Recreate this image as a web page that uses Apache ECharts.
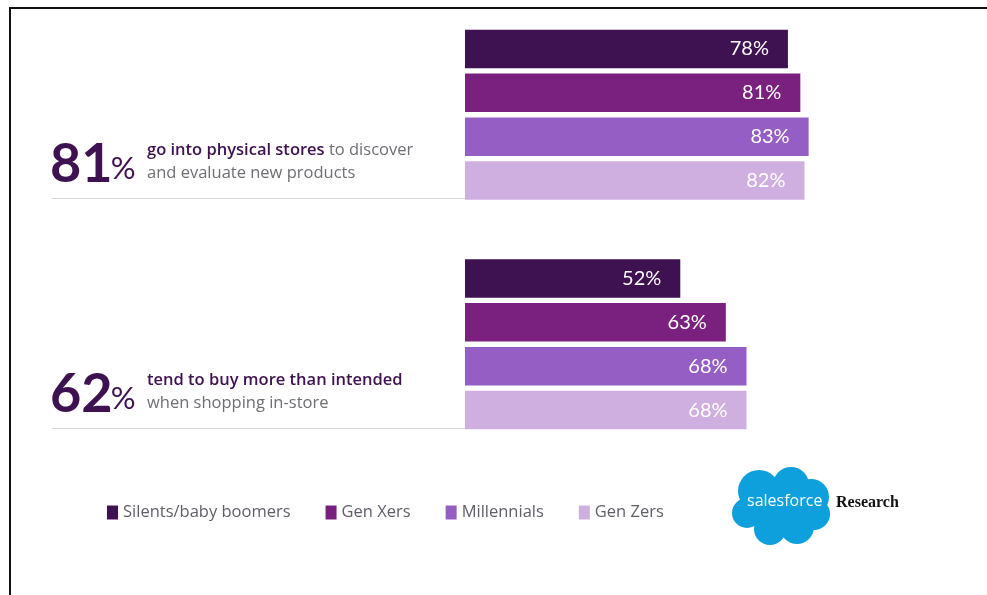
<!DOCTYPE html>
<html>
<head>
<meta charset="utf-8">
<script src="https://cdn.jsdelivr.net/npm/echarts@6/dist/echarts.min.js"></script>
<style>
  html, body { margin: 0; padding: 0; background: #fff; }
  #chart { width: 987px; height: 595px; }
</style>
</head>
<body>
<div id="chart"></div>
<script>
// Survey questions (one bar group each)
const questions = ['Discover in physical stores', 'Buy more than intended'];
// Share of respondents per generation, in percent
const generations = ['Silents/baby boomers', 'Gen Xers', 'Millennials', 'Gen Zers'];
const silents = [78, 52];
const genXers = [81, 63];
const millennials = [83, 68];
const genZers = [82, 68];
// Headline figures shown beside each group
const headline = [81, 62];
const headlineBold = ['go into physical stores', 'tend to buy more than intended'];
const headlineRest = [' to discover', ''];
const headlineLine2 = ['and evaluate new products', 'when shopping in-store'];

const colors = ['#3e1150', '#7a207e', '#955ec4', '#cfaee0'];
const dark = '#3e1150';
const grey = '#6e6e74';
const seriesValues = [silents, genXers, millennials, genZers];

// Measure text so the small percent sign sits right after the big number
const measureCtx = document.createElement('canvas').getContext('2d');
function textWidth(str, font) {
  measureCtx.font = font;
  return measureCtx.measureText(str).width;
}

const chart = echarts.init(document.getElementById('chart'));

const series = generations.map((name, i) => ({
  name: name,
  type: 'bar',
  data: seriesValues[i],
  barWidth: 38.5,
  barGap: '14%',
  itemStyle: { color: colors[i] },
  label: {
    show: true,
    position: 'insideRight',
    distance: 19,
    formatter: '{c}%',
    color: '#ffffff',
    fontSize: 20,
    fontFamily: 'Lato'
  },
  silent: true
}));

// Left-side annotation for each question
const groupTop = [0, 230];
const numFont = 'bold 54px Lato';
const textFont = '16.5px "Open Sans"';
const graphics = [];
headline.forEach((v, k) => {
  const dy = groupTop[k];
  const numW = textWidth(String(v), numFont);
  graphics.push({
    type: 'text', left: 50, top: 138 + dy,
    style: { text: String(v), font: numFont, fill: dark }
  });
  graphics.push({
    type: 'text', left: 50 + numW - 2, top: 153 + dy,
    style: { text: '%', font: '31px Lato', fill: dark }
  });
  graphics.push({
    type: 'text', left: 147, top: 142 + dy,
    style: {
      text: '{b|' + headlineBold[k] + '}' + (headlineRest[k] ? '{n|' + headlineRest[k] + '}' : ''),
      rich: {
        b: { font: '600 ' + textFont, fill: dark, color: dark },
        n: { font: textFont, fill: grey, color: grey }
      }
    }
  });
  graphics.push({
    type: 'text', left: 147, top: 165 + dy,
    style: { text: headlineLine2[k], font: textFont, fill: grey }
  });
  graphics.push({
    type: 'line',
    shape: { x1: 52, y1: 198.5 + dy, x2: 465, y2: 198.5 + dy },
    style: { stroke: '#d4d4d8', lineWidth: 1.2 }
  });
});

// Frame edges
graphics.push({ type: 'line', shape: { x1: 9, y1: 8, x2: 987, y2: 8 }, style: { stroke: '#111', lineWidth: 2 } });
graphics.push({ type: 'line', shape: { x1: 10, y1: 8, x2: 10, y2: 595 }, style: { stroke: '#111', lineWidth: 2 } });

// Salesforce cloud logo
const cloud = [
  [759, 491, 21], [791, 485, 18], [811, 497, 18], [814, 514, 16],
  [797, 527, 17], [770, 529, 16], [747, 513, 15], [782, 507, 24]
];
cloud.forEach(c => graphics.push({
  type: 'circle', shape: { cx: c[0], cy: c[1], r: c[2] }, style: { fill: '#0da0dc' }
}));
graphics.push({
  type: 'rect', shape: { x: 745, y: 490, width: 70, height: 30 }, style: { fill: '#0da0dc' }
});
graphics.push({
  type: 'text', left: 747, top: 493,
  style: { text: 'salesforce', font: '16px "Open Sans"', fill: '#ffffff' }
});
graphics.push({
  type: 'text', left: 836, top: 495,
  style: { text: 'Research', font: 'bold 16px "Liberation Serif"', fill: '#111' }
});

chart.setOption({
  animation: false,
  color: colors,
  grid: { left: 465, right: 108, top: -1, height: 460 },
  xAxis: { type: 'value', min: 0, max: 100, show: false },
  yAxis: {
    type: 'category', data: questions, inverse: true, show: false
  },
  legend: {
    data: generations,
    left: 102, top: 499,
    icon: 'rect', itemWidth: 11, itemHeight: 14, itemGap: 35,
    textStyle: { color: '#5f5f6a', fontSize: 16.5, fontFamily: 'Open Sans' },
    selectedMode: false
  },
  series: series,
  graphic: graphics
});
</script>
</body>
</html>
